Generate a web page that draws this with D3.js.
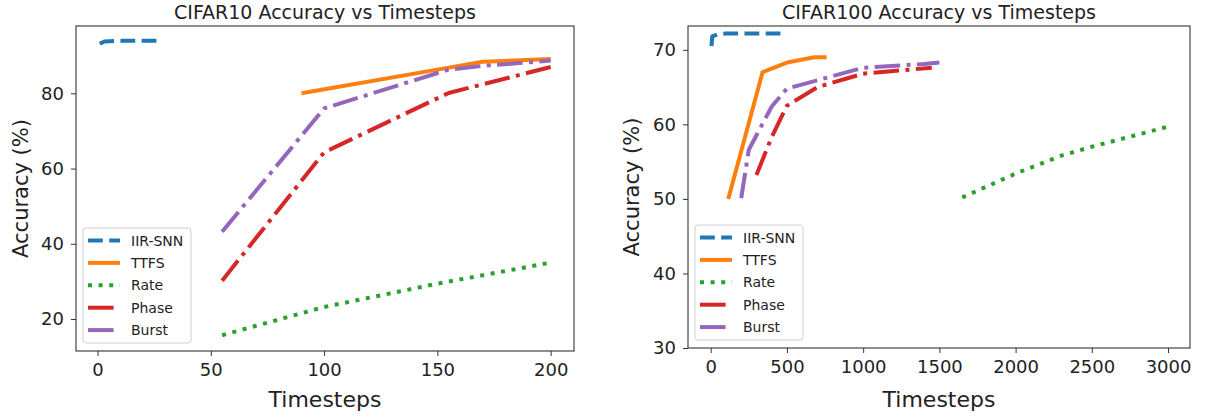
<!DOCTYPE html>
<html lang="en">
<head>
    <meta charset="UTF-8">
    <title>Accuracy vs Timesteps</title>
    <style>
        body{
            margin: 0;
            background-color: #fff;
        }
        svg text{
            font-family: "DejaVu Sans", sans-serif;
            fill: #222;
        }
        .axis path, .axis line{
            stroke: #333;
        }
    </style>
</head>
<body>

<div id="chart"></div>

<script src="https://cdn.jsdelivr.net/npm/d3@7"></script>
<script>
    // series shared by both panels
    var seriesNames = ['IIR-SNN', 'TTFS', 'Rate', 'Phase', 'Burst'];

    // CIFAR10 (timesteps / accuracy)
    var c10IirT = [1, 3, 10, 28];
    var c10IirAcc = [93.2, 93.8, 94.0, 94.0];
    var c10TtfsT = [90, 150, 170, 200];
    var c10TtfsAcc = [80.0, 86.3, 88.4, 89.1];
    var c10RateT = [55, 100, 150, 200];
    var c10RateAcc = [15.7, 23.2, 29.4, 35.0];
    var c10PhaseT = [55, 100, 155, 200];
    var c10PhaseAcc = [30.2, 64.3, 80.1, 87.0];
    var c10BurstT = [55, 100, 155, 170, 200];
    var c10BurstAcc = [43.2, 76.0, 86.3, 87.3, 88.7];

    // CIFAR100
    var c100IirT = [5, 10, 50, 100, 500];
    var c100IirAcc = [70.5, 71.8, 72.1, 72.2, 72.2];
    var c100TtfsT = [115, 340, 500, 680, 760];
    var c100TtfsAcc = [50.0, 67.0, 68.3, 69.0, 69.0];
    var c100RateT = [1650, 2000, 2300, 2500, 3000];
    var c100RateAcc = [50.2, 53.4, 55.8, 57.0, 59.7];
    var c100PhaseT = [300, 400, 500, 700, 1000, 1450];
    var c100PhaseAcc = [53.2, 58.3, 62.5, 65.0, 66.8, 67.6];
    var c100BurstT = [200, 250, 400, 500, 1000, 1400, 1500];
    var c100BurstAcc = [50.1, 56.6, 62.4, 64.8, 67.6, 68.1, 68.3];

    // tick labels
    var c10XTicks = [0, 50, 100, 150, 200];
    var c10YTicks = [20, 40, 60, 80];
    var c100XTicks = [0, 500, 1000, 1500, 2000, 2500, 3000];
    var c100YTicks = [30, 40, 50, 60, 70];

    var colors = ['#1f77b4', '#ff7f0e', '#2ca02c', '#d62728', '#9467bd'];
    var dashes = ['14.8,6.4', null, '4,6.6', '25.6,6.4,4,6.4', '25.6,6.4,4,6.4'];
    var lw = 4;

    var width = 1205, height = 417;

    var svg = d3.select('#chart')
        .append('svg')
        .attr('width', width)
        .attr('height', height);

    function zip(xs, ys) {
        return xs.map(function(x, i){ return [x, ys[i]]; });
    }

    function panel(opts) {
        var xScale = d3.scaleLinear().domain(opts.xDomain).range([opts.left, opts.right]);
        var yScale = d3.scaleLinear().domain(opts.yDomain).range([opts.bottom, opts.top]);

        var g = svg.append('g');

        var line = d3.line()
            .x(function(d){ return xScale(d[0]); })
            .y(function(d){ return yScale(d[1]); });

        opts.series.forEach(function(s, i){
            g.append('path')
                .datum(zip(s[0], s[1]))
                .attr('d', line)
                .attr('fill', 'none')
                .attr('stroke', colors[i])
                .attr('stroke-width', lw)
                .attr('stroke-linejoin', 'round')
                .attr('stroke-dasharray', dashes[i]);
        });

        // frame
        g.append('rect')
            .attr('x', opts.left)
            .attr('y', opts.top)
            .attr('width', opts.right - opts.left)
            .attr('height', opts.bottom - opts.top)
            .attr('fill', 'none')
            .attr('stroke', '#333')
            .attr('stroke-width', 1.1);

        var xAxis = d3.axisBottom(xScale).tickValues(opts.xTicks)
            .tickFormat(d3.format('d')).tickSize(5).tickPadding(7);
        g.append('g')
            .attr('class', 'axis')
            .attr('transform', 'translate(0,' + opts.bottom + ')')
            .call(xAxis)
            .call(function(a){
                a.select('.domain').remove();
                a.selectAll('text').attr('font-size', '18px').attr('fill', '#222');
            });

        var yAxis = d3.axisLeft(yScale).tickValues(opts.yTicks)
            .tickFormat(d3.format('d')).tickSize(5).tickPadding(7);
        g.append('g')
            .attr('class', 'axis')
            .attr('transform', 'translate(' + opts.left + ',0)')
            .call(yAxis)
            .call(function(a){
                a.select('.domain').remove();
                a.selectAll('text').attr('font-size', '18px').attr('fill', '#222');
            });

        // title and labels
        g.append('text')
            .attr('x', (opts.left + opts.right) / 2)
            .attr('y', 19)
            .attr('text-anchor', 'middle')
            .attr('font-size', '19px')
            .text(opts.title);

        g.append('text')
            .attr('x', (opts.left + opts.right) / 2)
            .attr('y', 407)
            .attr('text-anchor', 'middle')
            .attr('font-size', '22px')
            .text('Timesteps');

        g.append('text')
            .attr('transform', 'translate(' + opts.yLabelX + ',' + (opts.top + opts.bottom) / 2 + ') rotate(-90)')
            .attr('text-anchor', 'middle')
            .attr('font-size', '21px')
            .text('Accuracy (%)');

        // legend
        var lx = opts.left + 7, ly = opts.bottom - 123;
        var leg = g.append('g').attr('transform', 'translate(' + lx + ',' + ly + ')');
        leg.append('rect')
            .attr('width', 108)
            .attr('height', 115)
            .attr('rx', 3)
            .attr('fill', '#fff')
            .attr('fill-opacity', 0.8)
            .attr('stroke', '#d0d0d0');
        seriesNames.forEach(function(name, i){
            var yy = 12.5 + i * 22.4;
            leg.append('line')
                .attr('x1', 5).attr('x2', 37)
                .attr('y1', yy).attr('y2', yy)
                .attr('stroke', colors[i])
                .attr('stroke-width', lw)
                .attr('stroke-dasharray', dashes[i]);
            leg.append('text')
                .attr('x', 48)
                .attr('y', yy + 5)
                .attr('font-size', '14px')
                .text(name);
        });
    }

    panel({
        title: 'CIFAR10 Accuracy vs Timesteps',
        left: 76, right: 574, top: 26, bottom: 351,
        xDomain: [-9.5, 210.3], yDomain: [11.5, 97.9],
        xTicks: c10XTicks, yTicks: c10YTicks,
        yLabelX: 28,
        series: [[c10IirT, c10IirAcc], [c10TtfsT, c10TtfsAcc], [c10RateT, c10RateAcc],
                 [c10PhaseT, c10PhaseAcc], [c10BurstT, c10BurstAcc]]
    });

    panel({
        title: 'CIFAR100 Accuracy vs Timesteps',
        left: 688, right: 1190, top: 26, bottom: 348,
        xDomain: [-149, 3144], yDomain: [30, 73.2],
        xTicks: c100XTicks, yTicks: c100YTicks,
        yLabelX: 639,
        series: [[c100IirT, c100IirAcc], [c100TtfsT, c100TtfsAcc], [c100RateT, c100RateAcc],
                 [c100PhaseT, c100PhaseAcc], [c100BurstT, c100BurstAcc]]
    });
</script>

</body>
</html>
